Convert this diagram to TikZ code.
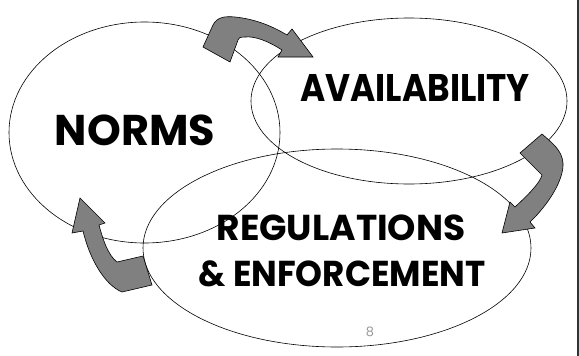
\documentclass[tikz,border=0pt]{standalone}
\usepackage{fontspec}
\setmainfont{Poppins}
\usepackage{tikz}

\begin{document}
\begin{tikzpicture}[x=1pt,y=-1pt,
  ring/.style={draw=black,line width=0.6pt},
  blk/.style={draw=black,line width=0.6pt,fill=black!50},
  lbl/.style={font=\bfseries,inner sep=0pt}]
\useasboundingbox (0,0) rectangle (579,356);
\draw[ring] (144.5,132.5) ellipse [x radius=135.5, y radius=110.5];
\draw[ring] (409,101) ellipse [x radius=158, y radius=83];
\draw[ring] (337,248) ellipse [x radius=194, y radius=99];
\node[lbl] (n) at (135,130) {\fontsize{43}{46}\selectfont NORMS};
\node[lbl] (a) at (415,88) {\scalebox{0.89}[1]{\fontsize{38.5}{42}\selectfont AVAILABILITY}};
\node[lbl] (r) at (341,228) {\fontsize{36}{40}\selectfont REGULATIONS};
\node[lbl] (e) at (342,274) {\scalebox{0.95}[1]{\fontsize{36}{40}\selectfont \& ENFORCEMENT}};
\node[text=black!40,inner sep=0pt] (p) at (370,332) {\fontsize{13}{15}\selectfont 8};
% arrows
\draw[blk] (203,47) -- (213,25) .. controls (217,17) and (225,16) .. (235,17)
  .. controls (255,19) and (272,26) .. (287,35) -- (292,29) -- (313,57) -- (278,57)
  -- (282,50) .. controls (268,41) and (255,36) .. (245,37)
  .. controls (240,37) and (238,38) .. (238,40) -- (230,62) -- cycle;
\draw[blk] (520,153) -- (542,134) .. controls (552,143) and (562,150) .. (563,163)
  .. controls (564,180) and (548,205) .. (530,222) -- (535,228) -- (502,233)
  -- (510,202) -- (515,207) .. controls (528,195) and (540,183) .. (542,175) -- cycle;
\draw[blk] (80,198) -- (105,223) -- (99,225) .. controls (103,240) and (108,255) .. (117,262)
  -- (143,256) -- (152,285) -- (122,292) .. controls (105,285) and (90,260) .. (83,231)
  -- (72,233) -- cycle;
\draw[black!80,line width=1.2pt] (578,0) -- (578,356);
\end{tikzpicture}
\end{document}
